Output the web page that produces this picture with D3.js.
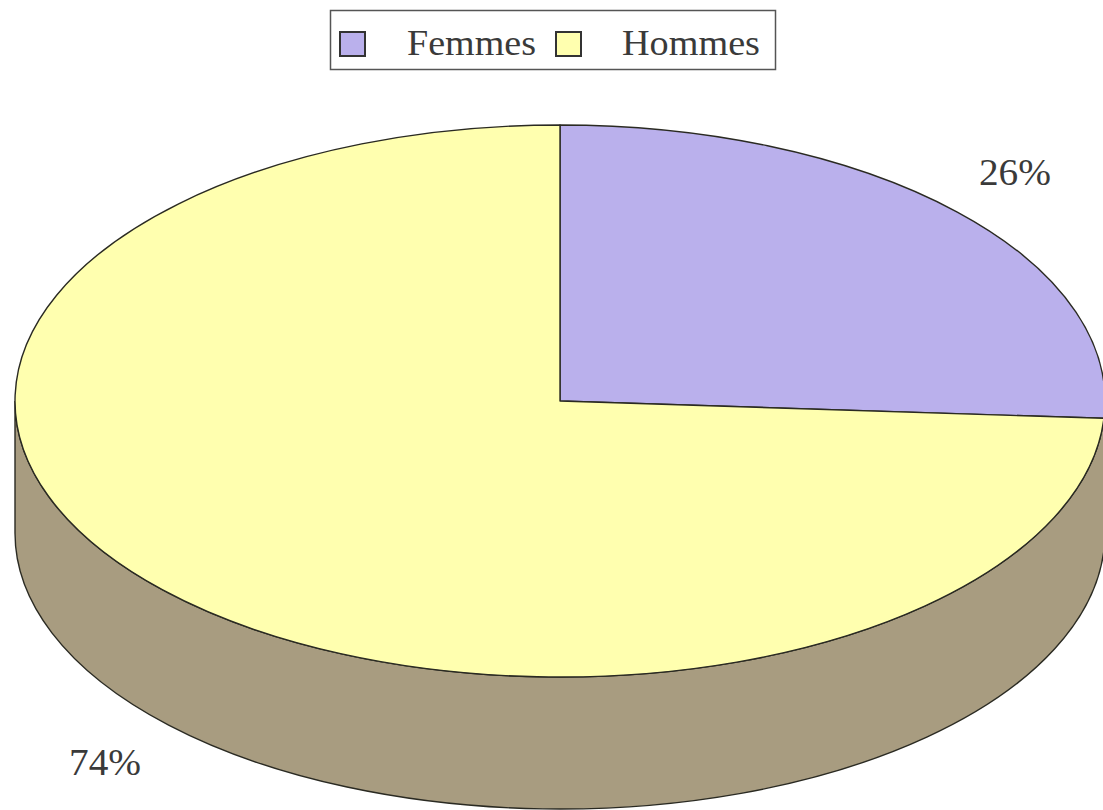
<!DOCTYPE html>
<html>
<head>
<meta charset="utf-8">
<script src="https://cdn.jsdelivr.net/npm/d3@7"></script>
<style>
  body { margin: 0; background: #fff; }
  svg { display: block; }
</style>
</head>
<body>
<script>
// data
var categories = ["Femmes", "Hommes"];
var values = [26, 74];
var labels = ["26%", "74%"];
var topColors = ["#bab0ec", "#ffffaf"];
var sideColors = ["#8f86b4", "#a89c80"];

var serif = "'Liberation Serif', 'Times New Roman', Times, 'DejaVu Serif', serif";

function run_d3 () {

    var width = 1103,
        height = 810;

    var svg = d3.select("body")
        .append("svg")
        .attr("width", width)
        .attr("height", height);

    // ellipse geometry of the tilted pie
    var cx = 560, cy = 401,
        rx = 545, ry = 276,
        depth = 132,
        k = ry / rx;

    var pie = d3.pie().sort(null).value(function(d){ return d; });
    var slices = pie(values);

    var arc = d3.arc().innerRadius(0).outerRadius(rx);

    // everything drawn as a circle of radius rx, then squashed
    var g = svg.append("g")
        .attr("transform", "translate(" + cx + "," + cy + ") scale(1," + k + ")");

    // side wall: only the front half (pi/2 .. 3pi/2) is visible
    function sidePath(a0, a1) {
        var d = depth / k;
        var p = d3.path();
        p.moveTo(rx * Math.sin(a0), -rx * Math.cos(a0));
        p.arc(0, 0, rx, a0 - Math.PI / 2, a1 - Math.PI / 2, false);
        p.lineTo(rx * Math.sin(a1), -rx * Math.cos(a1) + d);
        p.arc(0, d, rx, a1 - Math.PI / 2, a0 - Math.PI / 2, true);
        p.closePath();
        return p.toString();
    }

    g.selectAll("path.side")
        .data(slices.filter(function(s){
            return s.endAngle > Math.PI / 2 && s.startAngle < 3 * Math.PI / 2;
        }))
        .enter()
        .append("path")
        .attr("class", "side")
        .attr("fill", function(d){ return sideColors[d.index]; })
        .attr("stroke", "#2a2a22")
        .attr("stroke-width", 1.4)
        .attr("vector-effect", "non-scaling-stroke")
        .attr("d", function(d){
            var a0 = Math.max(d.startAngle, Math.PI / 2),
                a1 = Math.min(d.endAngle, 3 * Math.PI / 2);
            return sidePath(a0, a1);
        });

    // top faces
    g.selectAll("path.top")
        .data(slices)
        .enter()
        .append("path")
        .attr("class", "top")
        .attr("fill", function(d){ return topColors[d.index]; })
        .attr("stroke", "#2a2a22")
        .attr("stroke-width", 1.4)
        .attr("stroke-linejoin", "round")
        .attr("vector-effect", "non-scaling-stroke")
        .attr("d", arc);

    // percentage labels outside the pie
    svg.selectAll("text.pct")
        .data(slices)
        .enter()
        .append("text")
        .attr("class", "pct")
        .attr("font-family", serif)
        .attr("fill", "#3a3a3a")
        .attr("text-anchor", "middle")
        .attr("dy", "0.35em")
        .attr("font-size", 37)
        .attr("x", function(d){
            var a = (d.startAngle + d.endAngle) / 2;
            return cx + rx * 1.145 * Math.sin(a);
        })
        .attr("y", function(d){
            var a = (d.startAngle + d.endAngle) / 2;
            var y = cy - ry * 1.21 * Math.cos(a);
            if (Math.cos(a) < 0) y += depth;
            return y;
        })
        .attr("textLength", 72)
        .attr("lengthAdjust", "spacingAndGlyphs")
        .text(function(d){ return labels[d.index]; });

    // legend
    var legend = svg.append("g");
    legend.append("rect")
        .attr("x", 330.5).attr("y", 10.5)
        .attr("width", 445).attr("height", 59)
        .attr("fill", "#fff")
        .attr("stroke", "#555")
        .attr("stroke-width", 1.5);

    var legendX = [340, 556];
    var item = legend.selectAll("g.item")
        .data(categories)
        .enter()
        .append("g")
        .attr("class", "item")
        .attr("transform", function(d, i){ return "translate(" + legendX[i] + ",0)"; });

    item.append("rect")
        .attr("x", 0).attr("y", 32)
        .attr("width", 25).attr("height", 24)
        .attr("fill", function(d, i){ return topColors[i]; })
        .attr("stroke", "#333")
        .attr("stroke-width", 2);

    item.append("text")
        .attr("font-family", serif)
        .attr("fill", "#3a3a3a")
        .attr("x", function(d, i){ return i == 0 ? 67 : 66; })
        .attr("y", 55)
        .attr("font-size", 36)
        .attr("textLength", function(d, i){ return i == 0 ? 129 : 138; })
        .attr("lengthAdjust", "spacingAndGlyphs")
        .text(function(d){ return d; });
}

window.onload = run_d3;
</script>
</body>
</html>
